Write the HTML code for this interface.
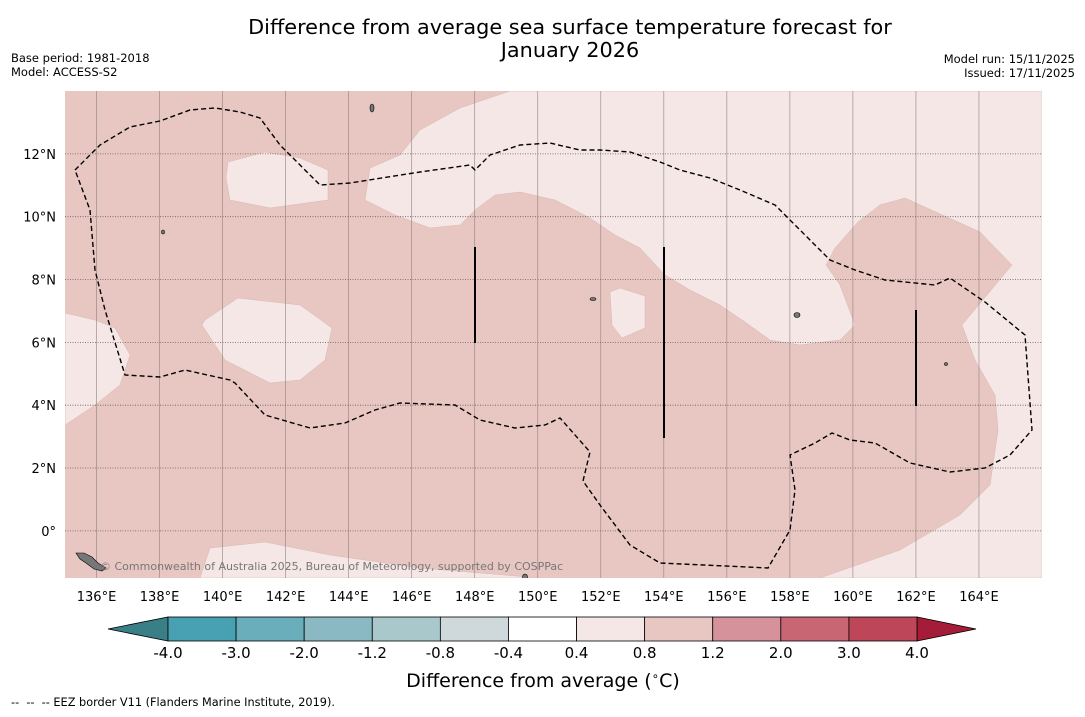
<!DOCTYPE html>
<html><head><meta charset="utf-8"><style>
body{margin:0;background:#fff;width:1085px;height:713px;overflow:hidden;font-family:"DejaVu Sans","Liberation Sans",sans-serif}
</style></head><body>
<svg id="fig" width="1085" height="713" xmlns="http://www.w3.org/2000/svg" font-family="DejaVu Sans, Liberation Sans, sans-serif">
<text x="570" y="34" font-size="20.8" text-anchor="middle">Difference from average sea surface temperature forecast for</text>
<text x="570" y="57" font-size="20.8" text-anchor="middle">January 2026</text>
<text x="11" y="62" font-size="11.5">Base period: 1981-2018</text>
<text x="11" y="76" font-size="11.5">Model: ACCESS-S2</text>
<text x="1075" y="63" font-size="11.5" text-anchor="end">Model run: 15/11/2025</text>
<text x="1075" y="77" font-size="11.5" text-anchor="end">Issued: 17/11/2025</text>
<defs><clipPath id="mc"><rect x="65" y="91" width="977" height="487"/></clipPath></defs>
<g id="map" clip-path="url(#mc)">
<rect x="65" y="91" width="977" height="487" fill="#e8c7c3"/>
<g fill="#f4e7e6" stroke="#d8b8b4" stroke-width="0.5">
<polygon points="370,168 400,155 420,130 460,108 510,91 1042,91 1042,578 820,578 900,550 960,515 990,485 998,430 995,395 975,360 962,325 1012,265 980,232 905,198 880,205 858,222 835,248 826,265 840,285 855,325 840,340 800,345 770,340 745,322 720,305 690,290 665,275 640,248 615,235 590,218 555,200 520,192 495,195 475,210 460,225 430,228 395,215 365,200"/>
<polygon points="228,162 265,152 300,158 328,170 328,200 270,208 230,200 226,178"/>
<polygon points="205,320 238,298 300,305 332,328 325,360 300,380 270,383 225,360 202,325"/>
<polygon points="610,292 620,288 645,296 645,328 622,338 612,325"/>
<polygon points="65,313 95,320 115,328 130,355 120,385 95,405 65,425"/>
<polygon points="200,578 210,548 265,542 330,555 420,568 540,578"/>
</g>
<g id="grid"></g>
<polyline fill="none" stroke="#000" stroke-width="1.4" stroke-dasharray="5,3" points="75,170 100,145 130,127 160,121 190,110 215,108 240,112 260,118 280,145 320,185 350,183 420,172 470,165 475,170 490,155 520,145 550,143 580,150 600,150 630,152 660,162 680,170 710,178 740,190 775,205 800,230 830,260 855,270 885,280 935,285 950,278 985,302 1025,335 1032,430 1010,455 985,468 950,472 910,463 875,443 850,440 832,433 815,443 790,455 795,490 790,530 768,568 660,563 630,545 600,505 583,481 590,452 560,418 545,425 515,428 480,420 455,405 400,403 375,410 345,423 310,428 265,415 235,383 230,380 185,370 160,377 125,375 105,310 95,270 90,210 75,170"/>
<g stroke="#000" stroke-width="2">
<line x1="475" y1="247" x2="475" y2="343"/>
<line x1="664" y1="247" x2="664" y2="438"/>
<line x1="916" y1="310" x2="916" y2="406"/>
</g>
<g fill="#777" stroke="#000" stroke-width="0.6">
<polygon points="76,553 84,553 92,557 98,563 106,568 102,571 94,569 86,563 80,559"/>
<ellipse cx="372" cy="108" rx="2" ry="4"/>
<ellipse cx="797" cy="315" rx="3" ry="2.5"/>
<ellipse cx="593" cy="299" rx="3" ry="1.5"/>
<ellipse cx="946" cy="364" rx="1.5" ry="1.5"/>
<ellipse cx="163" cy="232" rx="1.5" ry="2"/>
<ellipse cx="525" cy="577" rx="2.5" ry="3"/>
</g>
<text x="100" y="570" font-size="11" fill="#777">© Commonwealth of Australia 2025, Bureau of Meteorology, supported by COSPPac</text>
</g>
<g id="axes"></g>
<g id="cbar"></g>
<text x="543" y="687" font-size="19" text-anchor="middle">Difference from average (<tspan font-size="12" dy="-7">∘</tspan><tspan dy="7">C)</tspan></text>
<text x="11" y="706" font-size="11.3" xml:space="preserve">--  --  -- EEZ border V11 (Flanders Marine Institute, 2019).</text>
</svg>
<script>
const lonTicks=[136,138,140,142,144,146,148,150,152,154,156,158,160,162,164];
const latTicks=[0,2,4,6,8,10,12];
const latLabels=["0°","2°N","4°N","6°N","8°N","10°N","12°N"];
const cbarLevels=["-4.0","-3.0","-2.0","-1.2","-0.8","-0.4","0.4","0.8","1.2","2.0","3.0","4.0"];
const cbarColors=["#48a1b2","#6aaebb","#8ab9c4","#a9c8cc","#cfd8da","#ffffff","#f4e7e6","#e8c7c3","#d6929a","#c96674","#bd4758"];
const ns="http://www.w3.org/2000/svg";
const X0=65,X1=1042,Y0=91,Y1=578;
function xs(lon){return X0+(lon-135)*(X1-X0)/31;}
function ys(lat){return Y1-(lat+1.5)*(Y1-Y0)/15.5;}
function mk(t,a,p){const e=document.createElementNS(ns,t);for(const k in a)e.setAttribute(k,a[k]);p.appendChild(e);return e;}
const grid=document.getElementById('grid'),axes=document.getElementById('axes'),cb=document.getElementById('cbar');
lonTicks.forEach(l=>{
 const g=mk('line',{x1:xs(l),x2:xs(l),y1:Y0,y2:Y1,stroke:'#8a7a78','stroke-width':0.7,'stroke-opacity':0.8},grid);
 
 
 const t=mk('text',{x:xs(l),y:601,'font-size':13,'text-anchor':'middle'},axes);t.textContent=l+'°E';
 
 
});
latTicks.forEach((l,i)=>{
 const g=mk('line',{x1:X0,x2:X1,y1:ys(l),y2:ys(l),stroke:'#6a5a58','stroke-width':0.8,'stroke-dasharray':'1,1.5'},grid);
 
 
 const t=mk('text',{x:56,y:ys(l)+5,'font-size':13,'text-anchor':'end'},axes);t.textContent=latLabels[i];
 
 
});
const bx0=168,bx1=917,by0=617,by1=641,bw=(bx1-bx0)/cbarColors.length;
const lt=mk('polygon',{points:`108,${(by0+by1)/2} ${bx0},${by0} ${bx0},${by1}`,fill:'#3a7f88',stroke:'#000','stroke-width':0.8},cb);


const rt=mk('polygon',{points:`976,${(by0+by1)/2} ${bx1},${by0} ${bx1},${by1}`,fill:'#a51c38',stroke:'#000','stroke-width':0.8},cb);


cbarColors.forEach((c,i)=>{
 const r=mk('rect',{x:bx0+i*bw,y:by0,width:bw,height:by1-by0,fill:c,stroke:'#000','stroke-width':0.8},cb);
 
 
});
cbarLevels.forEach((v,i)=>{
 const t=mk('text',{x:bx0+i*bw,y:658,'font-size':15,'text-anchor':'middle'},cb);t.textContent=v;
 
 
});
</script>
</body></html>
